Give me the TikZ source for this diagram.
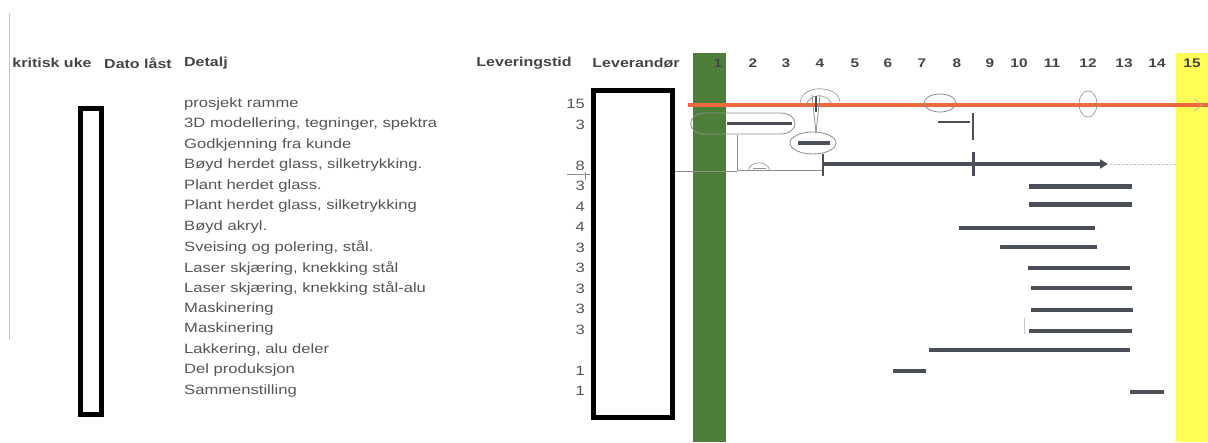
\documentclass[tikz,border=0pt]{standalone}
\usepackage{fontspec}
\setmainfont{Liberation Sans}[FakeStretch=1.23]
\usetikzlibrary{arrows.meta}
\definecolor{txt}{HTML}{555555}
\definecolor{head}{HTML}{454545}
\definecolor{wkgreen}{HTML}{4F7E3B}
\definecolor{wkyellow}{HTML}{FFFF55}
\definecolor{orangeline}{HTML}{EE6A3C}
\definecolor{barc}{HTML}{4B5058}
\definecolor{pencil}{HTML}{8E8E8E}
\definecolor{rule}{HTML}{C8C8C8}
\tikzset{
  colhead/.style={font=\fontsize{13}{15}\selectfont\bfseries, text=head, inner sep=0pt},
  week/.style={font=\fontsize{12.5}{15}\selectfont\bfseries, text=head, inner sep=0pt},
  task/.style={font=\fontsize{13.5}{16}\selectfont, text=txt, anchor=west, inner sep=0pt},
  lead/.style={font=\fontsize{13.5}{16}\selectfont, text=txt, anchor=east, inner sep=0pt},
  ganttbar/.style={draw=barc, line width=4.5pt},
  sketch/.style={draw=pencil, line width=0.8pt},
  frameline/.style={draw=black, line width=5.5pt}
}
\begin{document}
\begin{tikzpicture}[x=1pt,y=-1pt]
\useasboundingbox[fill=white] (0,0) rectangle (1208,442);

% thin rule at the left margin
\draw[rule, line width=0.8pt] (9,13) -- (9,340);

% week columns: start (green) and delivery (yellow)
\fill[wkgreen] (693,53) rectangle (726,442);
\fill[wkyellow] (1176,53) rectangle (1208,442);

% column headers
\node[colhead] (hKrit) at (52,63) {kritisk uke};
\node[colhead] (hDato) at (138,63) {Dato låst};
\node[colhead, anchor=west] (hDet) at (184,63) {Detalj};
\node[colhead] (hLev) at (524,63) {Leveringstid};
\node[colhead] (hLvr) at (636,63) {Leverandør};

% week numbers
\foreach \n/\x in {1/718,2/753,3/786,4/820,5/855,6/888,7/922,8/957,9/990,10/1019,11/1052,12/1088,13/1124,14/1157,15/1192}
  \node[week] (w\n) at (\x,63) {\n};

% task names
\node[task] (t0)  at (184,104)   {prosjekt ramme};
\node[task] (t1)  at (184,124.5) {3D modellering, tegninger, spektra};
\node[task] (t2)  at (184,145)   {Godkjenning fra kunde};
\node[task] (t3)  at (184,165.5) {Bøyd herdet glass, silketrykking.};
\node[task] (t4)  at (184,186)   {Plant herdet glass.};
\node[task] (t5)  at (184,206.5) {Plant herdet glass, silketrykking};
\node[task] (t6)  at (184,227)   {Bøyd akryl.};
\node[task] (t7)  at (184,247.5) {Sveising og polering, stål.};
\node[task] (t8)  at (184,268)   {Laser skjæring, knekking stål};
\node[task] (t9)  at (184,288.5) {Laser skjæring, knekking stål-alu};
\node[task] (t10) at (184,309)   {Maskinering};
\node[task] (t11) at (184,329.5) {Maskinering};
\node[task] (t12) at (184,350)   {Lakkering, alu deler};
\node[task] (t13) at (184,370.5) {Del produksjon};
\node[task] (t14) at (184,391)   {Sammenstilling};

% lead times (weeks)
\node[lead] (l0)  at (585,104)   {15};
\node[lead] (l1)  at (585,124.5) {3};
\node[lead] (l3)  at (585,165.5) {8};
\node[lead] (l4)  at (585,186)   {3};
\node[lead] (l5)  at (585,206.5) {4};
\node[lead] (l6)  at (585,227)   {4};
\node[lead] (l7)  at (585,247.5) {3};
\node[lead] (l8)  at (585,268)   {3};
\node[lead] (l9)  at (585,288.5) {3};
\node[lead] (l10) at (585,309)   {3};
\node[lead] (l11) at (585,329.5) {3};
\node[lead] (l13) at (585,370.5) {1};
\node[lead] (l14) at (585,391)   {1};

% empty entry frames
\draw[frameline] (80.5,108.5) rectangle (101.5,414.5);
\draw[frameline] (593.5,90.5) rectangle (672.5,417.5);

% underline of the 8 and the pencil link into the chart
\draw[sketch, line width=0.6pt] (567,174) -- (590,174);
\draw[sketch, line width=0.6pt] (585,172) -- (585,180);
\draw[sketch, line width=0.6pt] (675,171) -- (737,171);

% project frame line
\draw[orangeline, line width=4pt] (688,105) -- (1208,105);
\draw[pencil!70, line width=0.6pt] (1194,99) -- (1202,105) -- (1194,111);

% 3D modelling: bar with pencil outline
\draw[sketch] (705,113) -- (780,113) .. controls (800,113) and (800,134) .. (780,134)
  -- (705,134) .. controls (686,134) and (686,113) .. (705,113) -- cycle;
\draw[barc, line width=3pt] (727,123) -- (792,123);

% approval: circled bar with pencil marks above
\draw[sketch] (813,143) ellipse (23 and 11);
\draw[barc, line width=3.5pt] (798,143) -- (830,143);
\draw[sketch] (812,95) -- (816,133);
\draw[sketch] (820,95) -- (816,133);
\draw[barc, line width=1.5pt] (816,96) -- (816,112);
\draw[sketch, line width=0.6pt] (800,104) .. controls (800,84) and (838,84) .. (840,102);
\draw[sketch, line width=0.6pt] (806,108) .. controls (806,92) and (830,92) .. (832,106);

% pencil link from 3D modelling down to the glass bar
\draw[sketch, line width=0.6pt] (737,135) -- (737,170) -- (823,170);
\draw[sketch, line width=0.6pt] (748,171) .. controls (750,160) and (768,160) .. (770,171);
\draw[sketch, line width=0.6pt] (753,168) -- (766,168);

% marks around week 7-8
\draw[sketch] (940,103) ellipse (16 and 9);
\draw[barc, line width=2pt] (938,122) -- (970,122);
\draw[barc, line width=1.5pt] (973,113) -- (973,140);

% mark at week 12
\draw[sketch, line width=0.6pt] (1088,104) ellipse (9 and 13);

% bent tempered glass: long bar with arrow
\draw[barc, line width=1.5pt] (823,154) -- (823,176);
\draw[ganttbar, line width=3.5pt, -{Triangle[length=8pt,width=9pt]}] (823,164) -- (1108,164);
\draw[barc, line width=3pt] (973,152) -- (973,176);
\draw[pencil!60, line width=0.5pt, dash pattern=on 2pt off 2pt] (1110,164) -- (1176,164);

% remaining bars
\draw[ganttbar] (1029,186.5) -- (1132,186.5);
\draw[ganttbar] (1029,204.5) -- (1132,204.5);
\draw[ganttbar] (959,228) -- (1095,228);
\draw[ganttbar] (1000,247) -- (1097,247);
\draw[ganttbar] (1028,268) -- (1130,268);
\draw[ganttbar] (1031,288) -- (1132,288);
\draw[ganttbar] (1031,310) -- (1133,310);
\draw[ganttbar] (1029,331) -- (1132,331);
\draw[ganttbar] (929,350) -- (1130,350);
\draw[ganttbar] (893,371) -- (926,371);
\draw[ganttbar] (1130,392) -- (1164,392);
\draw[rule, line width=0.5pt] (1024,318) -- (1024,334);
\end{tikzpicture}
\end{document}
